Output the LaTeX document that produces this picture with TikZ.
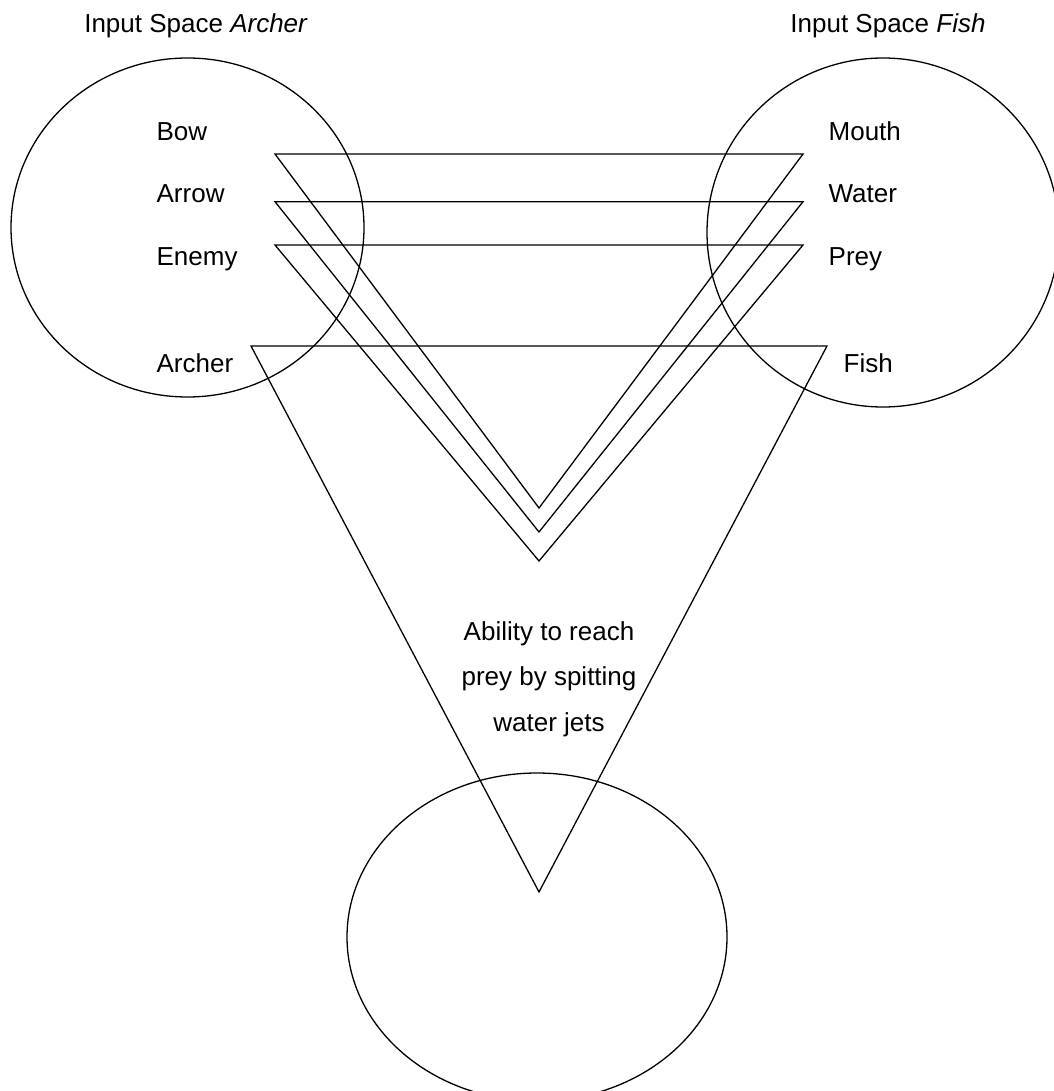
\documentclass[tikz,border=0pt]{standalone}
\usepackage{fontspec}
\setmainfont{Liberation Sans}
\usepackage{tikz}

\begin{document}
\begin{tikzpicture}[x=1pt, y=-1pt, line width=1.3pt,
  every node/.style={font=\fontsize{26}{45.5}\selectfont, inner sep=0pt}]
  \useasboundingbox (0,0) rectangle (1053,1091);

  % --- 1. Input spaces and blend ---
  \coordinate (archerC) at (187.5,227.5);
  \coordinate (fishC) at (883,232.5);
  \coordinate (blendC) at (537,937);
  \draw (archerC) ellipse [x radius=176.5, y radius=169.5];
  \draw (fishC) ellipse [x radius=176, y radius=174.5];
  \draw (blendC) ellipse [x radius=190, y radius=164];

  % --- 2. Titles ---
  \node[anchor=base] (archerT) at (196,33) {Input Space \textit{Archer}};
  \node[anchor=base] (fishT) at (888,33) {Input Space \textit{Fish}};

  % --- 3. Elements of each space ---
  \node[anchor=base west] (bow) at (156,140.7) {Bow};
  \node[anchor=base west] (arrow) at (156,202.7) {Arrow};
  \node[anchor=base west] (enemy) at (156,265) {Enemy};
  \node[anchor=base west] (archer) at (156,372.7) {Archer};
  \node[anchor=base west] (mouth) at (828,140.7) {Mouth};
  \node[anchor=base west] (water) at (828,202.7) {Water};
  \node[anchor=base west] (prey) at (828,265) {Prey};
  \node[anchor=base west] (fish) at (843,372.7) {Fish};

  % --- 4. Mappings (triangles) ---
  % Bow -> Mouth
  \coordinate (bowL) at (275,154);
  \coordinate (bowR) at (803,154);
  \coordinate (bowV) at (539,508);
  \draw[line join=miter] (bowL) -- (bowR) -- (bowV) -- cycle;
  % Arrow -> Water
  \coordinate (arrowL) at (275,201.7);
  \coordinate (arrowR) at (803,201.7);
  \coordinate (arrowV) at (539,532);
  \draw[line join=miter] (arrowL) -- (arrowR) -- (arrowV) -- cycle;
  % Enemy -> Prey
  \coordinate (enemyL) at (275,245);
  \coordinate (enemyR) at (803,245);
  \coordinate (enemyV) at (539,561);
  \draw[line join=miter] (enemyL) -- (enemyR) -- (enemyV) -- cycle;
  % Archer -> Fish, down into the blend
  \coordinate (archerL) at (251,346);
  \coordinate (archerR) at (827,346);
  \coordinate (archerV) at (539,892);
  \draw[line join=miter] (archerL) -- (archerR) -- (archerV) -- cycle;

  % --- 5. Emergent structure ---
  \node[align=center] (ability) at (549,679)
    {Ability to reach\\prey by spitting\\water jets};

\end{tikzpicture}
\end{document}
